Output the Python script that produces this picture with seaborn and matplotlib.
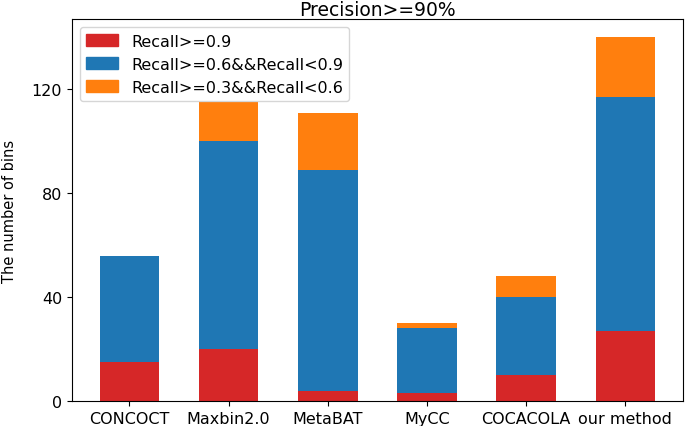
import pandas as pd
import numpy as np
import matplotlib
matplotlib.use("Agg")
import matplotlib.pyplot as plt
import seaborn as sns

# bins per method, split by recall range (precision >= 90%)
methods = ["CONCOCT", "Maxbin2.0", "MetaBAT", "MyCC", "COCACOLA", "our method"]
recall_high = [15, 20, 4, 3, 10, 27]        # Recall>=0.9
recall_mid = [41, 80, 85, 25, 30, 90]       # 0.6 <= Recall < 0.9
recall_low = [0, 15, 22, 2, 8, 23]          # 0.3 <= Recall < 0.6

labels = ["Recall>=0.9", "Recall>=0.6&&Recall<0.9", "Recall>=0.3&&Recall<0.6"]
colors = ["#d62728", "#1f77b4", "#ff7f0e"]

df = pd.DataFrame({
    "method": methods,
    "high": recall_high,
    "mid": recall_mid,
    "low": recall_low,
})
# cumulative heights so the layers can be drawn on top of each other
df["c_low"] = df["high"] + df["mid"] + df["low"]
df["c_mid"] = df["high"] + df["mid"]
df["c_high"] = df["high"]

fig = plt.figure(figsize=(6.85, 4.27), dpi=100)
ax = fig.add_axes([0.105, 0.0585, 0.892, 0.894])

for col, color in zip(["c_low", "c_mid", "c_high"], colors[::-1]):
    sns.barplot(data=df, x="method", y=col, order=methods, color=color,
                saturation=1, width=0.6, ax=ax)

ax.set_xlabel("")
ax.set_ylabel("The number of bins", fontsize=10.5)
ax.yaxis.set_label_coords(-0.09, 0.5)
ax.set_title("Precision>=90%", fontsize=13.5, pad=3)
ax.set_yticks([0, 40, 80, 120])
ax.tick_params(axis="both", labelsize=11.5)
ax.set_xlim(-0.58, 5.58)
ax.set_ylim(0, 147)

handles = [plt.Rectangle((0, 0), 1, 1, color=c) for c in colors]
ax.legend(handles, labels, loc="upper left", fontsize=11.5)

fig.savefig("out.png", dpi=100)
